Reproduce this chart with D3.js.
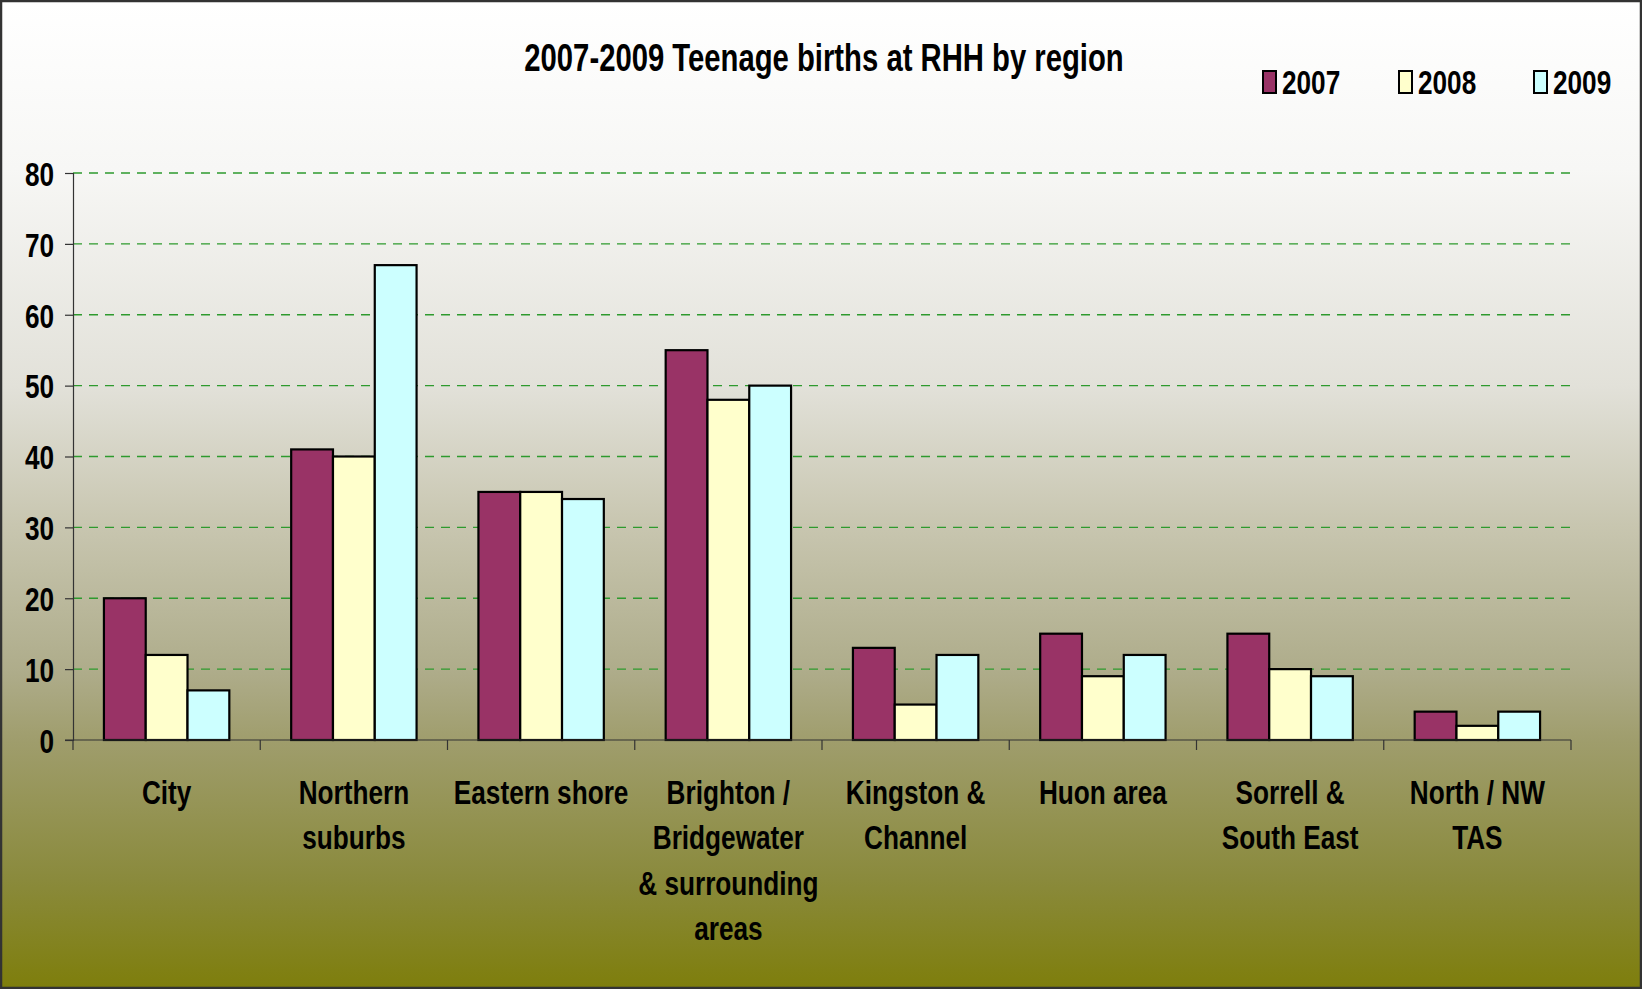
<!DOCTYPE html>
<html>
<head>
<meta charset="utf-8">
<script src="https://cdnjs.cloudflare.com/ajax/libs/d3/7.8.5/d3.min.js"></script>
<style>
  body { margin: 0; background: #fff; }
  svg { display: block; }
  text { font-family: "Liberation Sans Narrow", "Arial Narrow", "Liberation Sans", sans-serif; font-weight: bold; fill: #000; }
</style>
</head>
<body>
<script>
const categories = [
    ["City"],
    ["Northern", "suburbs"],
    ["Eastern shore"],
    ["Brighton /", "Bridgewater", "& surrounding", "areas"],
    ["Kingston &", "Channel"],
    ["Huon area"],
    ["Sorrell &", "South East"],
    ["North / NW", "TAS"]
];
const years = ["2007", "2008", "2009"];
const values2007 = [20, 41, 35, 55, 13, 15, 15, 4];
const values2008 = [12, 40, 35, 48, 5, 9, 10, 2];
const values2009 = [7, 67, 34, 50, 12, 12, 9, 4];
const yTicks = [0, 10, 20, 30, 40, 50, 60, 70, 80];
const colors = ["#993366", "#ffffcc", "#ccffff"];

const width = 1642, height = 989;
const margin = { top: 173, bottom: 249, left: 73, right: 71 };
const squeeze = 0.77; // no narrow font installed, so squash the regular one

const svg = d3.select("body").append("svg")
    .attr("width", width)
    .attr("height", height);

// background gradient, white to olive
const grad = svg.append("defs").append("linearGradient")
    .attr("id", "bg").attr("x1", 0).attr("y1", 0).attr("x2", 0).attr("y2", 1);
[[0, "#ffffff"], [0.17, "#f7f7f5"], [0.39, "#e2e1d9"], [0.53, "#c8c6b0"],
 [0.68, "#aeac8a"], [0.75, "#9f9d6c"], [0.89, "#8a8a3c"], [1, "#7e7e0c"]]
    .forEach(s => grad.append("stop").attr("offset", s[0]).attr("stop-color", s[1]));

svg.append("rect")
    .attr("x", 1).attr("y", 1)
    .attr("width", width - 2).attr("height", height - 2)
    .attr("fill", "url(#bg)")
    .attr("stroke", "#333").attr("stroke-width", 2.5);

const catNames = categories.map(c => c.join(" "));
const series = [values2007, values2008, values2009];

const x0 = d3.scaleBand()
    .domain(catNames)
    .range([margin.left, width - margin.right])
    .padding(0);

const x1 = d3.scaleBand()
    .domain(years)
    .range([0, x0.bandwidth()])
    .paddingInner(0)
    .paddingOuter(0.74);

const y = d3.scaleLinear()
    .domain([0, 80])
    .range([height - margin.bottom, margin.top]);

// grid
svg.append("g")
    .selectAll("line")
    .data(yTicks.filter(d => d > 0))
    .join("line")
    .attr("x1", margin.left).attr("x2", width - margin.right)
    .attr("y1", d => y(d)).attr("y2", d => y(d))
    .attr("stroke", "#2e9a2e")
    .attr("stroke-width", 1.3)
    .attr("stroke-dasharray", "9,7");

// y axis
const yAxis = svg.append("g")
    .attr("transform", `translate(${margin.left},0)`)
    .call(d3.axisLeft(y).tickValues(yTicks).tickSize(8).tickPadding(11));
yAxis.select(".domain").attr("stroke", "#333").attr("stroke-width", 1.2);
yAxis.selectAll(".tick line").attr("stroke", "#333").attr("stroke-width", 1.2);
yAxis.attr("font-family", null).attr("font-size", null);
yAxis.selectAll(".tick text")
    .style("font-size", "34px")
    .attr("x", -19 / squeeze)
    .attr("transform", `scale(${squeeze},1)`)
    .attr("dy", "0.36em");

// bars
const groups = svg.append("g")
    .selectAll("g")
    .data(catNames)
    .join("g")
    .attr("transform", d => `translate(${x0(d)},0)`);

groups.selectAll("rect")
    .data((d, i) => years.map((yr, j) => ({ yr: yr, v: series[j][i], c: colors[j] })))
    .join("rect")
    .attr("x", d => x1(d.yr))
    .attr("y", d => y(d.v))
    .attr("width", x1.bandwidth())
    .attr("height", d => y(0) - y(d.v))
    .attr("fill", d => d.c)
    .attr("stroke", "#000")
    .attr("stroke-width", 2.2);

// x axis
const xAxis = svg.append("g")
    .attr("transform", `translate(0,${y(0)})`);
xAxis.append("line")
    .attr("x1", margin.left - 8).attr("x2", width - margin.right)
    .attr("stroke", "#333").attr("stroke-width", 1.2);
xAxis.selectAll("line.tk")
    .data(catNames.concat(["end"]))
    .join("line")
    .attr("class", "tk")
    .attr("x1", (d, i) => i < catNames.length ? x0(d) : x0(catNames[i - 1]) + x0.bandwidth())
    .attr("x2", (d, i) => i < catNames.length ? x0(d) : x0(catNames[i - 1]) + x0.bandwidth())
    .attr("y1", 0).attr("y2", 10)
    .attr("stroke", "#333").attr("stroke-width", 1.2);

// category labels
const labels = svg.append("g")
    .selectAll("text")
    .data(categories)
    .join("text")
    .attr("transform", (d, i) => `translate(${x0(catNames[i]) + x0.bandwidth() / 2},${y(0) + 64}) scale(${squeeze},1)`)
    .attr("text-anchor", "middle")
    .style("font-size", "34px");
labels.selectAll("tspan")
    .data(d => d)
    .join("tspan")
    .attr("x", 0)
    .attr("dy", (d, i) => i === 0 ? 0 : 45.5)
    .text(d => d);

// title
svg.append("text")
    .attr("transform", `translate(824,71) scale(${squeeze},1)`)
    .attr("text-anchor", "middle")
    .style("font-size", "38px")
    .text("2007-2009 Teenage births at RHH by region");

// legend
const legendX = [1263, 1399, 1534];
const legend = svg.append("g")
    .selectAll("g")
    .data(years)
    .join("g")
    .attr("transform", (d, i) => `translate(${legendX[i]},71)`);
legend.append("rect")
    .attr("width", 13).attr("height", 22)
    .attr("fill", (d, i) => colors[i])
    .attr("stroke", "#000").attr("stroke-width", 2);
legend.append("text")
    .attr("transform", `translate(19,23) scale(${squeeze},1)`)
    .style("font-size", "34px")
    .text(d => d);
</script>
</body>
</html>
